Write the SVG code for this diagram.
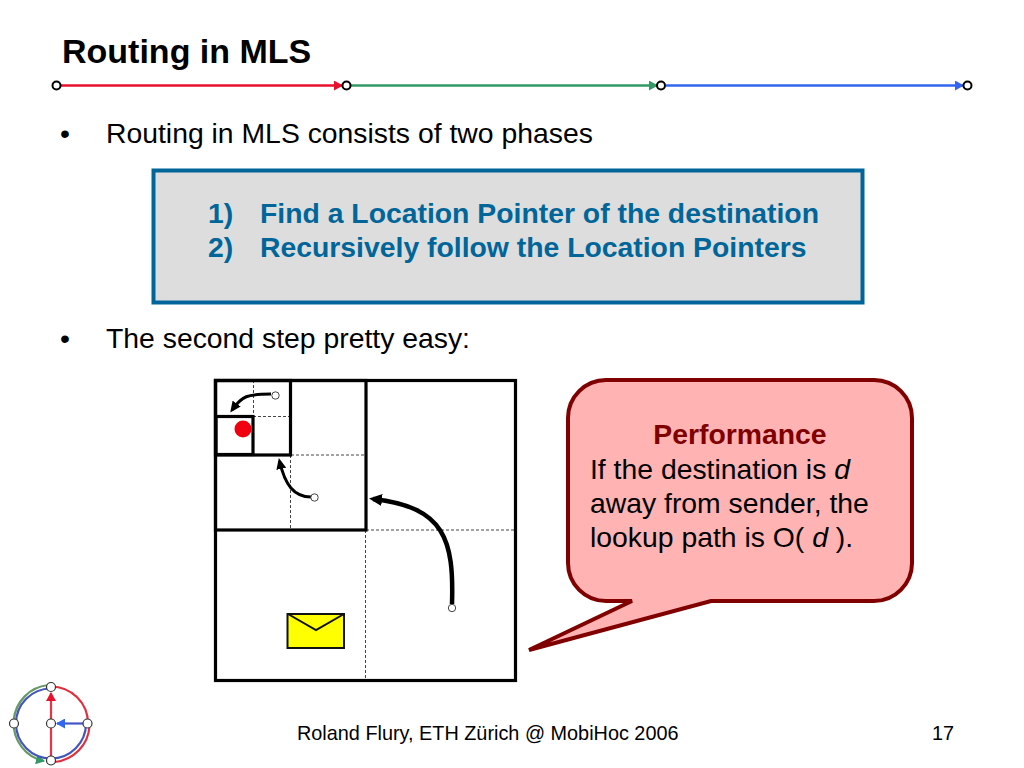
<svg xmlns="http://www.w3.org/2000/svg" width="1024" height="768" viewBox="0 0 1024 768">
<style>
text{font-family:"Liberation Sans",Arial,sans-serif;fill:#000}
.body{font-size:28.35px}
.box{font-size:28.35px;font-weight:bold;fill:#006699}
.call{font-size:28.35px}
.dash{stroke:#444;stroke-width:1;stroke-dasharray:3 2;fill:none}
.sq{fill:none;stroke:#000;stroke-width:3.2}
.arc{fill:none;stroke:#000}
.dot{fill:#fff;stroke:#444;stroke-width:1}
.hn{fill:#fff;stroke:#000;stroke-width:2}
.ln{fill:#fff;stroke:#333;stroke-width:1.2}
</style>
<defs>
<marker id="mr" markerUnits="userSpaceOnUse" markerWidth="9" markerHeight="10" refX="8" refY="5" orient="auto"><path d="M0 0L9 5L0 10z" fill="#e8112d"/></marker>
<marker id="mg" markerUnits="userSpaceOnUse" markerWidth="9" markerHeight="10" refX="8" refY="5" orient="auto"><path d="M0 0L9 5L0 10z" fill="#339966"/></marker>
<marker id="mb" markerUnits="userSpaceOnUse" markerWidth="9" markerHeight="10" refX="8" refY="5" orient="auto"><path d="M0 0L9 5L0 10z" fill="#3366ee"/></marker>
<marker id="mk" markerUnits="userSpaceOnUse" markerWidth="13" markerHeight="12" refX="9" refY="6" orient="auto"><path d="M0 0L13 6L0 12z" fill="#000"/></marker>
<marker id="ms" markerUnits="userSpaceOnUse" markerWidth="11" markerHeight="10" refX="8" refY="5" orient="auto"><path d="M0 0L11 5L0 10z" fill="#000"/></marker>
</defs>
<rect width="1024" height="768" fill="#fff"/>
<text id="title" x="62" y="62.500" font-size="34" font-weight="bold">Routing in MLS</text>
<g id="header-connectors">
<line x1="61" y1="85.500" x2="342" y2="85.500" stroke="#e8112d" stroke-width="2.500" marker-end="url(#mr)"/>
<line x1="351" y1="85.500" x2="657" y2="85.500" stroke="#339966" stroke-width="2.500" marker-end="url(#mg)"/>
<line x1="666" y1="85.500" x2="963" y2="85.500" stroke="#3366ee" stroke-width="2.500" marker-end="url(#mb)"/>
</g>
<g id="header-nodes">
<circle class="hn" cx="56.500" cy="85.500" r="4"/>
<circle class="hn" cx="346.500" cy="85.500" r="4"/>
<circle class="hn" cx="661" cy="85.500" r="4"/>
<circle class="hn" cx="967.500" cy="85.500" r="4"/>
</g>
<text class="body" x="60" y="143">•</text>
<text class="body" x="106" y="143">Routing in MLS consists of two phases</text>
<g id="phases">
<rect x="153.500" y="170.500" width="709" height="132" fill="#dddddd" stroke="#006699" stroke-width="4"/>
<text class="box" x="208" y="223">1)</text>
<text class="box" x="260" y="223">Find a Location Pointer of the destination</text>
<text class="box" x="208" y="257">2)</text>
<text class="box" x="260" y="257">Recursively follow the Location Pointers</text>
</g>
<text class="body" x="60" y="348">•</text>
<text class="body" x="106" y="348">The second step pretty easy:</text>
<g id="grid">
<rect x="215.500" y="380.500" width="300" height="300" fill="#fff" stroke="none"/>
<path class="dash" d="M366 530H515M365.500 530V680M291 455H365M290.500 455V530M253 416.500H290M253.500 380V416"/>
<rect class="sq" x="215.500" y="380.500" width="300" height="300"/>
<rect class="sq" x="215.500" y="380.500" width="150.500" height="149.500"/>
<rect class="sq" x="215.500" y="380.500" width="75" height="74.500"/>
<rect class="sq" x="216" y="416.500" width="37" height="38" stroke-width="3.500"/>
</g>
<circle id="destination" cx="243" cy="429" r="8.500" fill="#f0000f"/>
<g id="connectors">
<path class="arc" stroke-width="4.500" d="M452 604C454 540 445 507 373 499" marker-end="url(#mk)"/>
<path class="arc" stroke-width="3" d="M311 497C294 497 285 485 279.500 461" marker-end="url(#ms)"/>
<path class="arc" stroke-width="3" d="M271 394C247 394 242 396 232 410" marker-end="url(#ms)"/>
</g>
<g id="hops">
<circle class="dot" cx="452" cy="608" r="3.700"/>
<circle class="dot" cx="314.500" cy="497.500" r="3.700"/>
<circle class="dot" cx="275.500" cy="395.500" r="3.700"/>
</g>
<g id="envelope">
<rect x="287.500" y="614" width="56.500" height="34" fill="#ffff00" stroke="#111" stroke-width="2"/>
<path d="M288 614L316 630L344 614" fill="none" stroke="#111" stroke-width="2"/>
</g>
<g id="callout">
<path d="M606 380H874A38 38 0 0 1 912 418V563A38 38 0 0 1 874 601H711L529 650L632 601H606A38 38 0 0 1 568 563V418A38 38 0 0 1 606 380Z" fill="#ffb3b3" stroke="#800000" stroke-width="4"/>
<text x="740" y="444" text-anchor="middle" font-size="28.350" font-weight="bold" style="fill:#800000">Performance</text>
<text class="call" x="590" y="478.500">If the destination is <tspan font-style="italic">d</tspan></text>
<text class="call" x="590" y="512.500">away from sender, the</text>
<text class="call" x="590" y="546.500">lookup path is O( <tspan font-style="italic">d</tspan> ).</text>
</g>
<g id="logo" fill="none">
<path d="M49 685A38.500 38.500 0 0 0 44 761" stroke="#669966" stroke-width="2.200" marker-end="url(#mg)"/>
<path d="M51 688.500A35 35 0 0 0 51 758.500A35 35 0 0 0 86 723.500" stroke="#4455bb" stroke-width="2.200"/>
<path d="M51 686.500A37 37 0 0 1 88 723.500" stroke="#e03040" stroke-width="2.200"/>
<path d="M89.500 726A38.500 38.500 0 0 1 55 762" stroke="#e03040" stroke-width="2.200"/>
<line x1="51" y1="759" x2="51" y2="693" stroke="#e8334d" stroke-width="2.200" marker-end="url(#mr)"/>
<line x1="87" y1="723.500" x2="57" y2="723.500" stroke="#4455cc" stroke-width="2.200" marker-end="url(#mb)"/>
<circle class="ln" cx="51" cy="687" r="4.500"/>
<circle class="ln" cx="14" cy="723.500" r="4.500"/>
<circle class="ln" cx="51" cy="723.500" r="4.500"/>
<circle class="ln" cx="87.500" cy="723.500" r="4.500"/>
<circle class="ln" cx="51" cy="760.500" r="4.500"/>
</g>
<text x="297" y="739.500" font-size="19.850">Roland Flury, ETH Zürich @ MobiHoc 2006</text>
<text x="932" y="739.500" font-size="19.850">17</text>
</svg>
